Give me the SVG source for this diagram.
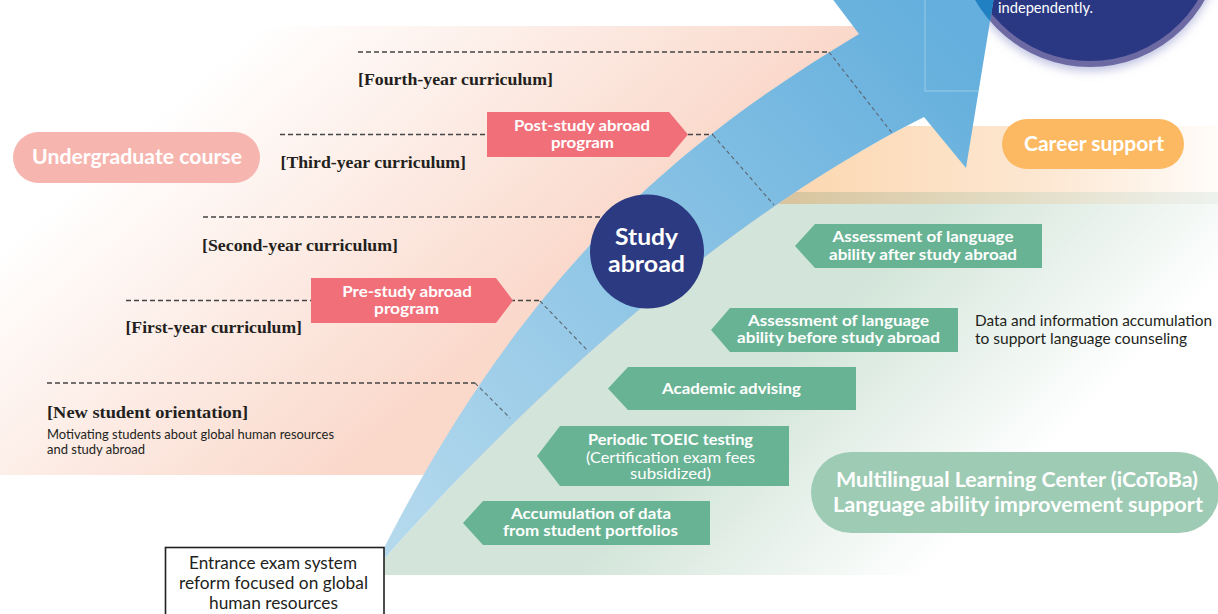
<svg xmlns="http://www.w3.org/2000/svg" width="1218" height="614" viewBox="0 0 1218 614">
  <defs>
    <style>
      .sb { font-family: Lato, "Open Sans", "Liberation Sans", sans-serif; font-weight: 700; fill: #ffffff; }
      .sr { font-family: Lato, "Open Sans", "Liberation Sans", sans-serif; font-weight: 400; }
      .serif { font-family: "Liberation Serif", serif; font-weight: 700; fill: #231f20; font-size: 17.5px; }
      .dark { fill: #231f20; }
      .green { fill: #68b394; }
      .coral { fill: #f06f79; }
      .hdash { fill: none; stroke: #444444; stroke-width: 1.3; stroke-dasharray: 5 3; }
      .ddash { fill: none; stroke: #5b6670; stroke-width: 1.1; stroke-dasharray: 4 3; }
    </style>
    <linearGradient id="gPink" gradientUnits="userSpaceOnUse" x1="220" y1="60" x2="480" y2="360">
      <stop offset="0" stop-color="#ffffff"/>
      <stop offset="1" stop-color="#fad8ca"/>
    </linearGradient>
    <linearGradient id="gOrange" gradientUnits="userSpaceOnUse" x1="800" y1="0" x2="1218" y2="0">
      <stop offset="0" stop-color="#fcd8b2"/>
      <stop offset="0.6" stop-color="#fde8d3"/>
      <stop offset="1" stop-color="#fffcf9"/>
    </linearGradient>
    <linearGradient id="gTan" gradientUnits="userSpaceOnUse" x1="780" y1="0" x2="1218" y2="0">
      <stop offset="0" stop-color="#d8c49d"/>
      <stop offset="0.5" stop-color="#e2dbc2"/>
      <stop offset="1" stop-color="#eef2ee"/>
    </linearGradient>
    <linearGradient id="gGreen" gradientUnits="userSpaceOnUse" x1="575" y1="575" x2="750" y2="750">
      <stop offset="0" stop-color="#d3e5da"/>
      <stop offset="1" stop-color="#ffffff"/>
    </linearGradient>
    <linearGradient id="gArrow" gradientUnits="userSpaceOnUse" x1="400" y1="540" x2="950" y2="30">
      <stop offset="0" stop-color="#b4d9ed"/>
      <stop offset="1" stop-color="#64afdd"/>
    </linearGradient>
    <!-- area to the right of the arrow's lower edge -->
    <clipPath id="rightOfArrow">
      <path d="M383,560 C549,373 745,206 924,117 L1218,117 L1218,614 L383,614 Z"/>
    </clipPath>
    <clipPath id="arrowClip">
      <path d="M831,-3 L859,34 C688,137 528,262 380,556 L383,560 C549,373 745,206 924,117 L966,168 L994,-3 Z"/>
    </clipPath>
    <filter id="glow" x="-20%" y="-20%" width="140%" height="140%">
      <feDropShadow dx="0" dy="4" stdDeviation="5" flood-color="#8a90c8" flood-opacity="0.55"/>
    </filter>
  </defs>

  <!-- background bands -->
  <path d="M0,475 L0,140 C0,60 200,26 320,26 L860,26 L860,475 Z" fill="url(#gPink)"/>
  <g clip-path="url(#rightOfArrow)">
    <rect x="700" y="126" width="518" height="67" fill="url(#gOrange)"/>
    <rect x="700" y="192" width="518" height="13" fill="url(#gTan)"/>
    <rect x="383" y="204" width="835" height="371" fill="url(#gGreen)"/>
  </g>

  <!-- goal circle, top right -->
  <g id="goal">
    <circle cx="1090" cy="-65" r="129" fill="#2c3883" stroke="#6c69a3" stroke-width="6" filter="url(#glow)"/>
    <text class="sr" x="998" y="13" font-size="14.5" fill="#ffffff" textLength="95" lengthAdjust="spacingAndGlyphs">independently.</text>
  </g>

  <!-- growth arrow -->
  <g id="arrow">
    <path d="M831,-3 L859,34 C688,137 528,262 380,556 L383,560 C549,373 745,206 924,117 L966,168 L994,-3 Z" fill="url(#gArrow)"/>
    <g clip-path="url(#arrowClip)">
      <circle cx="1090" cy="-65" r="132" fill="#2180c2"/>
    </g>
    <path d="M925,0 V91 H978" fill="none" stroke="#a6d2ee" stroke-width="1" opacity="0.8"/>
  </g>

  <!-- year dividers -->
  <g id="connectors">
    <path class="hdash" d="M358,52 H829"/>
    <path class="hdash" d="M280,134.5 H713"/>
    <path class="hdash" d="M203,217 H620"/>
    <path class="hdash" d="M126,300.5 H540"/>
    <path class="hdash" d="M47,383 H475"/>
    <path class="ddash" d="M829,52 L892,133"/>
    <path class="ddash" d="M713,135 L774,205"/>
    <path class="ddash" d="M540,301 L587,350"/>
    <path class="ddash" d="M475,383 L510,418"/>
  </g>

  <!-- curriculum labels -->
  <g id="label-fourth"><text class="serif" x="358" y="85" textLength="195" lengthAdjust="spacingAndGlyphs">[Fourth-year curriculum]</text></g>
  <g id="label-third"><text class="serif" x="280.5" y="168" textLength="185.5" lengthAdjust="spacingAndGlyphs">[Third-year curriculum]</text></g>
  <g id="label-second"><text class="serif" x="202" y="251" textLength="196" lengthAdjust="spacingAndGlyphs">[Second-year curriculum]</text></g>
  <g id="label-first"><text class="serif" x="125.5" y="333" textLength="176.5" lengthAdjust="spacingAndGlyphs">[First-year curriculum]</text></g>
  <g id="label-orientation">
    <text class="serif" x="47" y="418" textLength="201" lengthAdjust="spacingAndGlyphs">[New student orientation]</text>
    <text class="sr dark" x="47" y="439" font-size="12.5" textLength="287" lengthAdjust="spacingAndGlyphs">Motivating students about global human resources</text>
    <text class="sr dark" x="47" y="454" font-size="12.5" textLength="98" lengthAdjust="spacingAndGlyphs">and study abroad</text>
  </g>

  <!-- section pills -->
  <g id="undergraduate">
    <rect x="13" y="132" width="247" height="51" rx="25.5" fill="#f7b5b0"/>
    <text class="sb" x="137" y="164" font-size="21" text-anchor="middle" textLength="210" lengthAdjust="spacingAndGlyphs">Undergraduate course</text>
  </g>
  <g id="career">
    <rect x="1002" y="119" width="182" height="50" rx="25" fill="#fcb962"/>
    <text class="sb" x="1094" y="151" font-size="21" text-anchor="middle" textLength="140" lengthAdjust="spacingAndGlyphs">Career support</text>
  </g>
  <g id="icotoba">
    <rect x="811" y="452" width="408" height="81" rx="40.5" fill="#9ecbb4"/>
    <text class="sb" x="1017" y="487" font-size="21" text-anchor="middle" textLength="362" lengthAdjust="spacingAndGlyphs">Multilingual Learning Center (iCoToBa)</text>
    <text class="sb" x="1018" y="512" font-size="21" text-anchor="middle" textLength="370" lengthAdjust="spacingAndGlyphs">Language ability improvement support</text>
  </g>

  <!-- programs -->
  <g id="post-study">
    <path class="coral" d="M487,112 H669 L688,134.5 L669,157 H487 Z"/>
    <text class="sb" x="582" y="131" font-size="15.5" text-anchor="middle" textLength="136" lengthAdjust="spacingAndGlyphs">Post-study abroad</text>
    <text class="sb" x="582.5" y="148" font-size="15.5" text-anchor="middle" textLength="63" lengthAdjust="spacingAndGlyphs">program</text>
  </g>
  <g id="pre-study">
    <path class="coral" d="M311,278 H496 L513,300.5 L496,323 H311 Z"/>
    <text class="sb" x="407" y="297" font-size="15.5" text-anchor="middle" textLength="129.5" lengthAdjust="spacingAndGlyphs">Pre-study abroad</text>
    <text class="sb" x="406.5" y="314" font-size="15.5" text-anchor="middle" textLength="65" lengthAdjust="spacingAndGlyphs">program</text>
  </g>
  <g id="study-abroad">
    <circle cx="647" cy="251.5" r="57" fill="#2c3a82"/>
    <text class="sb" x="646.5" y="245" font-size="22" text-anchor="middle" textLength="63" lengthAdjust="spacingAndGlyphs">Study</text>
    <text class="sb" x="646.5" y="272" font-size="22" text-anchor="middle" textLength="77" lengthAdjust="spacingAndGlyphs">abroad</text>
  </g>

  <!-- language support steps -->
  <g id="assess-after">
    <path class="green" d="M815,224 H1042 V268 H815 L795,246 Z"/>
    <text class="sb" x="923" y="242" font-size="16" text-anchor="middle" textLength="181" lengthAdjust="spacingAndGlyphs">Assessment of language</text>
    <text class="sb" x="923" y="260" font-size="16" text-anchor="middle" textLength="188" lengthAdjust="spacingAndGlyphs">ability after study abroad</text>
  </g>
  <g id="assess-before">
    <path class="green" d="M730,308 H958 V352 H730 L711,330 Z"/>
    <text class="sb" x="838.5" y="326" font-size="16" text-anchor="middle" textLength="181" lengthAdjust="spacingAndGlyphs">Assessment of language</text>
    <text class="sb" x="838.5" y="343" font-size="16" text-anchor="middle" textLength="203" lengthAdjust="spacingAndGlyphs">ability before study abroad</text>
  </g>
  <g id="data-note">
    <text class="sr dark" x="975" y="326" font-size="15" textLength="237" lengthAdjust="spacingAndGlyphs">Data and information accumulation</text>
    <text class="sr dark" x="975" y="344" font-size="15" textLength="212" lengthAdjust="spacingAndGlyphs">to support language counseling</text>
  </g>
  <g id="advising">
    <path class="green" d="M628,367 H856 V410 H628 L608,388.5 Z"/>
    <text class="sb" x="731.5" y="394" font-size="16" text-anchor="middle" textLength="139" lengthAdjust="spacingAndGlyphs">Academic advising</text>
  </g>
  <g id="toeic">
    <path class="green" d="M560,426 H789 V486 H560 L537,456 Z"/>
    <text class="sb" x="670.5" y="445" font-size="16" text-anchor="middle" textLength="165" lengthAdjust="spacingAndGlyphs">Periodic TOEIC testing</text>
    <text class="sr" x="670.5" y="462.5" font-size="14.5" fill="#ffffff" text-anchor="middle" textLength="169" lengthAdjust="spacingAndGlyphs">(Certification exam fees</text>
    <text class="sr" x="670.5" y="479" font-size="14.5" fill="#ffffff" text-anchor="middle" textLength="81" lengthAdjust="spacingAndGlyphs">subsidized)</text>
  </g>
  <g id="portfolios">
    <path class="green" d="M483,501 H710 V545 H483 L463,523 Z"/>
    <text class="sb" x="591" y="519" font-size="16" text-anchor="middle" textLength="160" lengthAdjust="spacingAndGlyphs">Accumulation of data</text>
    <text class="sb" x="590.5" y="536" font-size="16" text-anchor="middle" textLength="175" lengthAdjust="spacingAndGlyphs">from student portfolios</text>
  </g>

  <!-- admissions -->
  <g id="entrance">
    <rect x="165.5" y="547.5" width="218.5" height="80" fill="#ffffff" stroke="#231f20" stroke-width="1.6"/>
    <text class="sr dark" x="273" y="569" font-size="16.5" text-anchor="middle" textLength="168" lengthAdjust="spacingAndGlyphs">Entrance exam system</text>
    <text class="sr dark" x="273.5" y="589" font-size="16.5" text-anchor="middle" textLength="189" lengthAdjust="spacingAndGlyphs">reform focused on global</text>
    <text class="sr dark" x="273.5" y="609" font-size="16.5" text-anchor="middle" textLength="129" lengthAdjust="spacingAndGlyphs">human resources</text>
  </g>
</svg>
